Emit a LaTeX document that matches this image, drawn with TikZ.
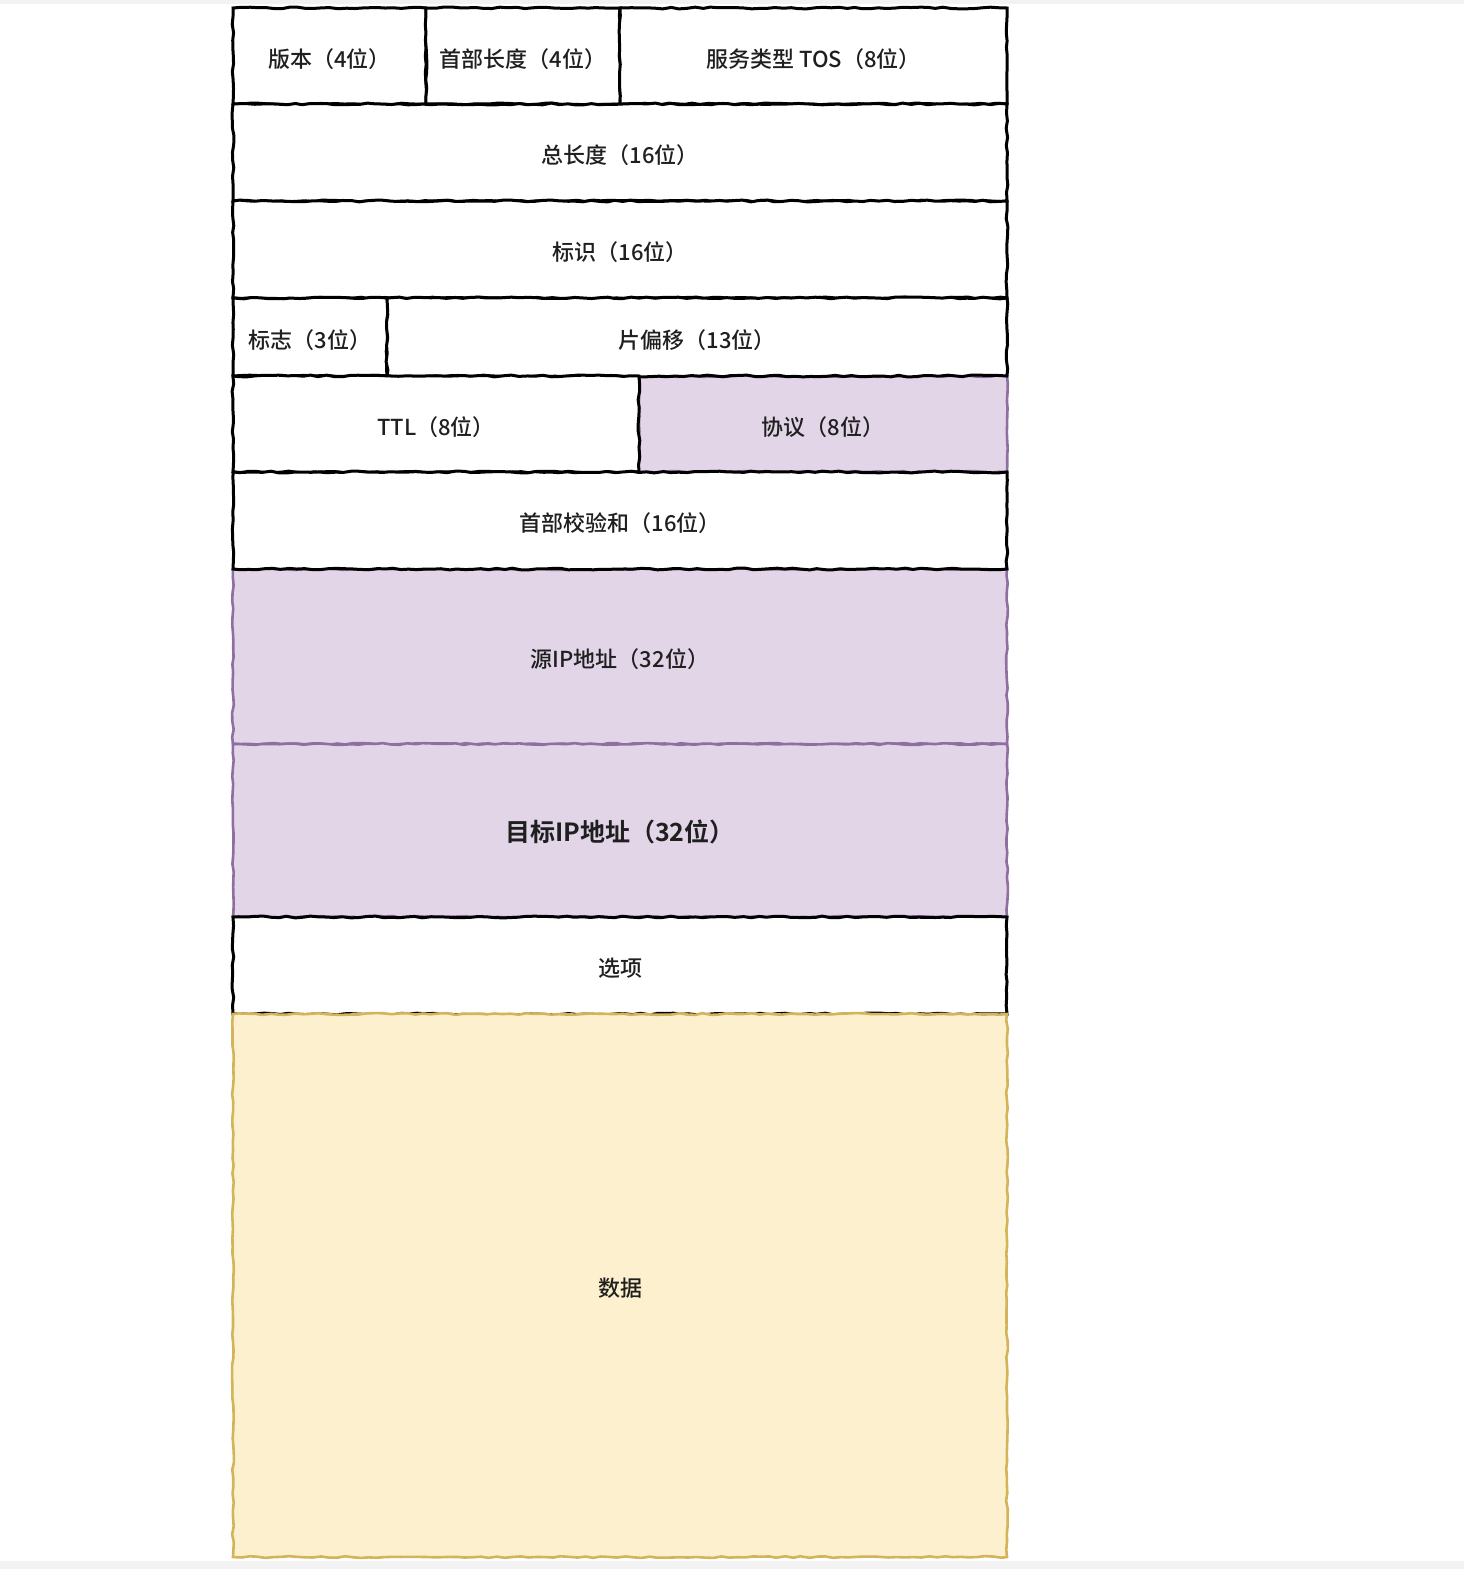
\documentclass[tikz,border=0pt]{standalone}
\usepackage{fontspec}
\setmainfont{Noto Sans CJK SC}[UprightFont=* Medium, BoldFont=* Bold]
\usetikzlibrary{decorations.pathmorphing}

\definecolor{lilacfill}{HTML}{E1D5E7}
\definecolor{lilacline}{HTML}{8E6FA0}
\definecolor{sandfill}{HTML}{FCF0CE}
\definecolor{sandline}{HTML}{D4B45A}
\definecolor{pagegray}{HTML}{F2F2F2}

\begin{document}
\begin{tikzpicture}[x=1pt, y=-1pt,
            % Style for one header field, with a slightly shaky border
            field/.style 2 args={draw=black, line width=3pt, fill=white,
                minimum width=#1pt, minimum height=#2pt, inner sep=0pt, outer sep=0pt,
                font=\fontsize{22}{26}\selectfont, text=black!88,
                text height=22pt, text depth=0pt,
                decorate, decoration={random steps, segment length=8pt, amplitude=0.9pt}},
            % Colours for the highlighted fields
            lilac/.style={fill=lilacfill, draw=lilacline, line width=2.6pt},
            sand/.style={fill=sandfill, draw=sandline, line width=2.6pt}
        ]
        \pgfmathsetseed{7}
        \useasboundingbox (0,0) rectangle (1464,1569);
        % thin grey page edges
        \fill[pagegray] (0,0) rectangle (1464,4);
        \fill[pagegray] (0,1561) rectangle (1464,1569);

        % --- Highlighted fields first ---
        \node[field={368}{96}, lilac] (proto) at (823,424) {协议（8位）};
        \node[field={774}{175}, lilac] (srcip) at (620,656.5) {源IP地址（32位）};
        \node[field={774}{173}, lilac, font=\fontsize{25}{30}\selectfont\bfseries] (dstip) at (620,830.5) {目标IP地址（32位）};

        % --- First line: version, header length, TOS ---
        \node[field={193}{96}] (version) at (329.5,56) {版本（4位）};
        \node[field={194}{96}] (ihl) at (523,56) {首部长度（4位）};
        \node[field={387}{96}] (tos) at (813.5,56) {服务类型 TOS（8位）};

        % --- Full-width lines ---
        \node[field={774}{97}] (totlen) at (620,152.5) {总长度（16位）};
        \node[field={774}{97}] (ident) at (620,249.5) {标识（16位）};

        % --- Flags and fragment offset ---
        \node[field={154}{78}] (flags) at (310,337) {标志（3位）};
        \node[field={620}{78}] (offset) at (697,337) {片偏移（13位）};

        % --- TTL next to the protocol ---
        \node[field={406}{96}] (ttl) at (436,424) {TTL（8位）};

        \node[field={774}{97}] (csum) at (620,520.5) {首部校验和（16位）};
        \node[field={774}{97}] (options) at (620,965.5) {选项};

        % --- Payload ---
        \node[field={774}{543}, sand] (payload) at (620,1285.5) {数据};

        \end{tikzpicture}
\end{document}
